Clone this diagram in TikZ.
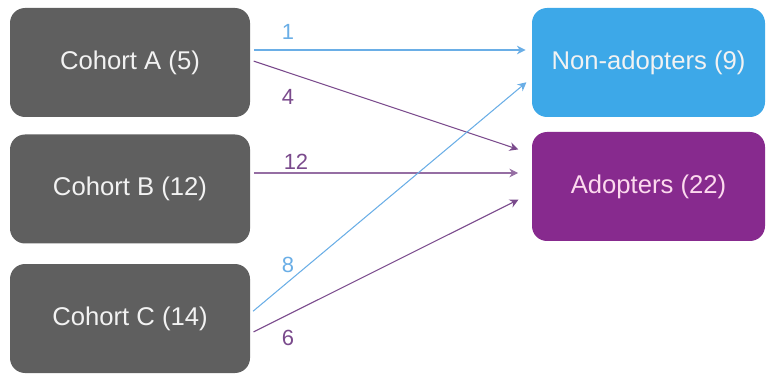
\documentclass[tikz,border=0pt]{standalone}
\usepackage{fontspec}
\setmainfont{Liberation Sans}
\usetikzlibrary{arrows.meta}
\definecolor{boxgray}{HTML}{5F5F5F}
\definecolor{nonblue}{HTML}{3DA8E8}
\definecolor{adoptpurple}{HTML}{872A8E}
\definecolor{linkblue}{HTML}{6AAEE6}
\definecolor{linkpurple}{HTML}{7A4A8C}
\begin{document}
\begin{tikzpicture}[
    cohort/.style={rectangle, rounded corners=0.3cm, fill=boxgray, text=white!90!gray,
        minimum width=4.8cm, minimum height=2.18cm, font=\fontsize{14.6}{17}\selectfont},
    outcome/.style={cohort, minimum width=4.66cm},
    flow/.style={-{Stealth[length=5pt, width=5pt]}, line width=0.6pt, shorten >=2pt, shorten <=2pt},
    count/.style={font=\fontsize{12.5}{14}\selectfont}
]
\useasboundingbox (0,0) rectangle (15.32,-7.48);

% Cohorts
\node[cohort] (ca) at (2.6, -1.25) {Cohort A (5)};
\node[cohort] (cb) at (2.6, -3.78) {Cohort B (12)};
\node[cohort] (cc) at (2.6, -6.37) {Cohort C (14)};

% Outcomes
\node[outcome, fill=nonblue] (non) at (12.97, -1.25) {Non-adopters (9)};
\node[outcome, fill=adoptpurple, text=white!85!magenta] (adopt) at (12.97, -3.73) {Adopters (22)};

% Flows
\draw[flow, linkblue] ([yshift=0.25cm]ca.east) -- ([yshift=0.25cm, xshift=-0.05cm]non.west);
\draw[flow, linkpurple] ([yshift=0.05cm]ca.east) -- ([yshift=0.72cm, xshift=-0.2cm]adopt.west);
\draw[flow, linkpurple!80] ([yshift=0.32cm]cb.east) -- ([yshift=0.27cm, xshift=-0.2cm]adopt.west);
\draw[flow, linkblue] ([yshift=0.1cm]cc.east) -- ([yshift=-0.35cm, xshift=-0.05cm]non.west);
\draw[flow, linkpurple] ([yshift=-0.3cm]cc.east) -- ([yshift=-0.23cm, xshift=-0.2cm]adopt.west);

% Counts
\node[count, text=linkblue] (n1) at (5.76, -0.64) {1};
\node[count, text=linkpurple] (n4) at (5.76, -1.94) {4};
\node[count, text=linkpurple] (n12) at (5.92, -3.24) {12};
\node[count, text=linkblue] (n8) at (5.76, -5.3) {8};
\node[count, text=linkpurple] (n6) at (5.76, -6.76) {6};

\end{tikzpicture}
\end{document}
